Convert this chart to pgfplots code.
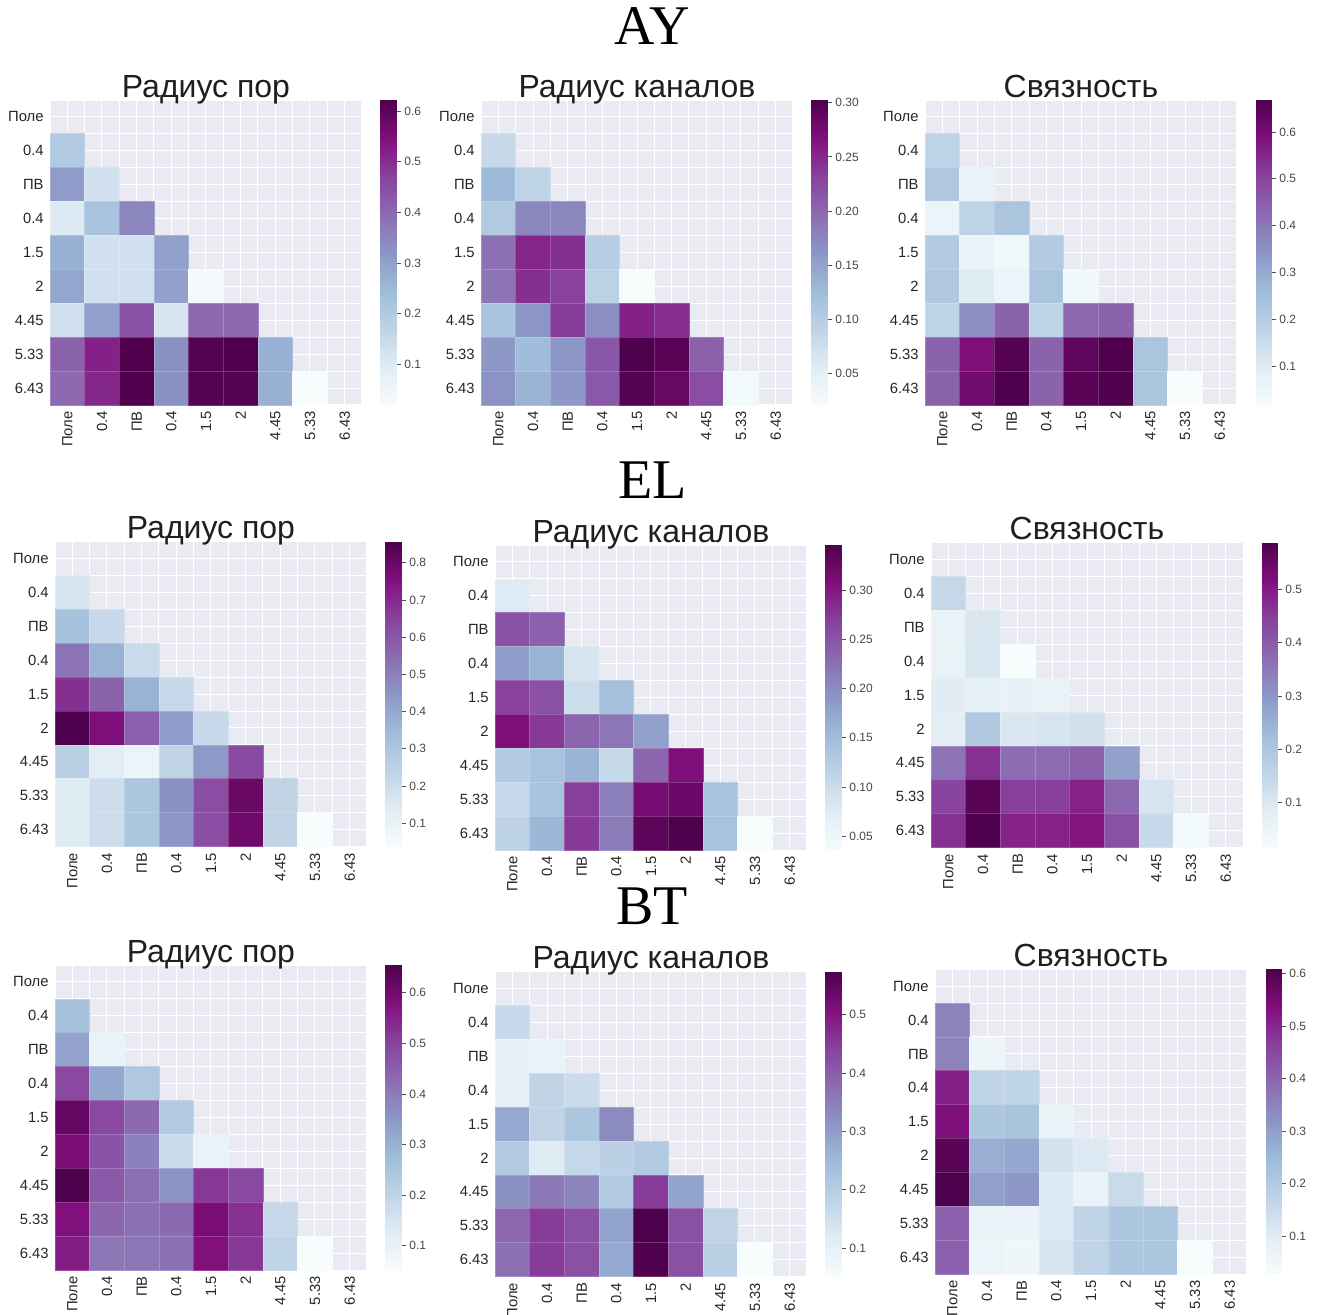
\documentclass[border=0pt]{standalone}
\usepackage{fontspec}
\setmainfont{Liberation Sans}
\newfontfamily\timesfont{Liberation Serif}
\usepackage{pgfplots}
\usepackage{pgfplotstable}
\usetikzlibrary{calc}
\pgfplotsset{compat=1.18}

\definecolor{hmbg}{HTML}{EAEAF2}
\definecolor{txt}{HTML}{262626}
% BuPu stops
\definecolor{bu0}{RGB}{247,252,253}
\definecolor{bu1}{RGB}{224,236,244}
\definecolor{bu2}{RGB}{191,211,230}
\definecolor{bu3}{RGB}{158,188,218}
\definecolor{bu4}{RGB}{140,150,198}
\definecolor{bu5}{RGB}{140,107,177}
\definecolor{bu6}{RGB}{136,65,157}
\definecolor{bu7}{RGB}{129,15,124}
\definecolor{bu8}{RGB}{77,0,75}

% half width / half height of one heatmap cell
\newdimen\cellhw \newdimen\cellhh
\cellhw=8.667pt \cellhh=8.472pt
\pgfdeclareplotmark{cell}{%
  \pgfpathrectangle{\pgfqpoint{-\cellhw}{-\cellhh}}{\pgfqpoint{2\cellhw}{2\cellhh}}%
  \pgfusepathqfillstroke}

% colour strip beside a named heatmap (BuPu, bottom to top)
\newcommand\cbar[1]{%
  \foreach \j in {0,...,7}{%
    \pgfmathtruncatemacro\nj{\j+1}%
    \foreach \p in {0,...,11}{%
      \pgfmathsetmacro\pct{100-(\p+0.5)*100/12}%
      \pgfmathsetmacro\fa{(\j*12+\p)/96}%
      \pgfmathsetmacro\fb{min((\j*12+\p+1)/96+0.003,1)}%
      \fill[bu\j!\pct!bu\nj]
        ($(#1.south east)!\fa!(#1.north east)+(9.25pt,0)$) rectangle
        ($(#1.south east)!\fb!(#1.north east)+(17.5pt,0)$);
    }%
  }%
}

% r = row (0 = Поле ... 8 = 6.43), c = column, v = value (lower triangle only)
\pgfplotstableread{
r c v
1 0 0.20
2 0 0.31
2 1 0.13
3 0 0.10
3 1 0.22
3 2 0.35
4 0 0.27
4 1 0.13
4 2 0.13
4 3 0.30
5 0 0.29
5 1 0.13
5 2 0.13
5 3 0.30
5 4 0.03
6 0 0.13
6 1 0.30
6 2 0.44
6 3 0.12
6 4 0.40
6 5 0.40
7 0 0.41
7 1 0.52
7 2 0.62
7 3 0.33
7 4 0.61
7 5 0.62
7 6 0.27
8 0 0.40
8 1 0.51
8 2 0.62
8 3 0.33
8 4 0.61
8 5 0.61
8 6 0.27
8 7 0.02
}\tAYpor

\pgfplotstableread{
r c v
1 0 0.083
2 0 0.128
2 1 0.090
3 0 0.105
3 1 0.173
3 2 0.175
4 0 0.193
4 1 0.252
4 2 0.245
4 3 0.100
5 0 0.190
5 1 0.245
5 2 0.232
5 3 0.095
5 4 0.021
6 0 0.115
6 1 0.162
6 2 0.235
6 3 0.168
6 4 0.255
6 5 0.247
7 0 0.160
7 1 0.125
7 2 0.160
7 3 0.215
7 4 0.3025
7 5 0.295
7 6 0.205
8 0 0.165
8 1 0.135
8 2 0.160
8 3 0.213
8 4 0.298
8 5 0.285
8 6 0.222
8 7 0.028
}\tAYkan

\pgfplotstableread{
r c v
1 0 0.18
2 0 0.22
2 1 0.07
3 0 0.06
3 1 0.18
3 2 0.23
4 0 0.21
4 1 0.065
4 2 0.045
4 3 0.21
5 0 0.22
5 1 0.10
5 2 0.06
5 3 0.23
5 4 0.04
6 0 0.18
6 1 0.36
6 2 0.44
6 3 0.18
6 4 0.43
6 5 0.44
7 0 0.44
7 1 0.59
7 2 0.655
7 3 0.44
7 4 0.64
7 5 0.665
7 6 0.23
8 0 0.44
8 1 0.61
8 2 0.668
8 3 0.44
8 4 0.65
8 5 0.665
8 6 0.23
8 7 0.018
}\tAYsv

\pgfplotstableread{
r c v
1 0 0.17
2 0 0.32
2 1 0.22
3 0 0.53
3 1 0.37
3 2 0.21
4 0 0.69
4 1 0.57
4 2 0.37
4 3 0.22
5 0 0.857
5 1 0.76
5 2 0.58
5 3 0.43
5 4 0.22
6 0 0.26
6 1 0.13
6 2 0.09
6 3 0.24
6 4 0.44
6 5 0.63
7 0 0.14
7 1 0.20
7 2 0.30
7 3 0.46
7 4 0.62
7 5 0.80
7 6 0.24
8 0 0.14
8 1 0.20
8 2 0.30
8 3 0.45
8 4 0.62
8 5 0.79
8 6 0.24
8 7 0.037
}\tELpor

\pgfplotstableread{
r c v
1 0 0.076
2 0 0.253
2 1 0.240
3 0 0.185
3 1 0.162
3 2 0.085
4 0 0.268
4 1 0.255
4 2 0.100
4 3 0.145
5 0 0.310
5 1 0.275
5 2 0.235
5 3 0.220
5 4 0.180
6 0 0.128
6 1 0.140
6 2 0.160
6 3 0.105
6 4 0.235
6 5 0.310
7 0 0.107
7 1 0.140
7 2 0.270
7 3 0.210
7 4 0.315
7 5 0.325
7 6 0.140
8 0 0.115
8 1 0.157
8 2 0.275
8 3 0.215
8 4 0.334
8 5 0.346
8 6 0.140
8 7 0.036
}\tELkan

\pgfplotstableread{
r c v
1 0 0.145
2 0 0.06
2 1 0.10
3 0 0.06
3 1 0.105
3 2 0.015
4 0 0.085
4 1 0.07
4 2 0.065
4 3 0.06
5 0 0.075
5 1 0.19
5 2 0.10
5 3 0.11
5 4 0.12
6 0 0.36
6 1 0.47
6 2 0.37
6 3 0.37
6 4 0.39
6 5 0.28
7 0 0.44
7 1 0.57
7 2 0.45
7 3 0.45
7 4 0.49
7 5 0.38
7 6 0.11
8 0 0.47
8 1 0.588
8 2 0.49
8 3 0.49
8 4 0.51
8 5 0.42
8 6 0.14
8 7 0.03
}\tELsv

\pgfplotstableread{
r c v
1 0 0.26
2 0 0.33
2 1 0.10
3 0 0.49
3 1 0.32
3 2 0.24
4 0 0.62
4 1 0.49
4 2 0.43
4 3 0.23
5 0 0.59
5 1 0.47
5 2 0.39
5 3 0.18
5 4 0.10
6 0 0.655
6 1 0.46
6 2 0.42
6 3 0.36
6 4 0.52
6 5 0.49
7 0 0.58
7 1 0.44
7 2 0.42
7 3 0.43
7 4 0.59
7 5 0.53
7 6 0.19
8 0 0.56
8 1 0.41
8 2 0.41
8 3 0.42
8 4 0.58
8 5 0.52
8 6 0.20
8 7 0.052
}\tBTpor

\pgfplotstableread{
r c v
1 0 0.165
2 0 0.10
2 1 0.09
3 0 0.10
3 1 0.18
3 2 0.16
4 0 0.28
4 1 0.18
4 2 0.22
4 3 0.33
5 0 0.21
5 1 0.12
5 2 0.17
5 3 0.19
5 4 0.21
6 0 0.32
6 1 0.355
6 2 0.34
6 3 0.21
6 4 0.45
6 5 0.29
7 0 0.385
7 1 0.45
7 2 0.42
7 3 0.29
7 4 0.574
7 5 0.42
7 6 0.18
8 0 0.37
8 1 0.45
8 2 0.42
8 3 0.28
8 4 0.57
8 5 0.42
8 6 0.19
8 7 0.051
}\tBTkan

\pgfplotstableread{
r c v
1 0 0.35
2 0 0.35
2 1 0.06
3 0 0.51
3 1 0.17
3 2 0.17
4 0 0.54
4 1 0.21
4 2 0.22
4 3 0.07
5 0 0.59
5 1 0.27
5 2 0.285
5 3 0.13
5 4 0.11
6 0 0.608
6 1 0.30
6 2 0.315
6 3 0.11
6 4 0.07
6 5 0.15
7 0 0.41
7 1 0.07
7 2 0.075
7 3 0.11
7 4 0.17
7 5 0.21
7 6 0.21
8 0 0.41
8 1 0.065
8 2 0.055
8 3 0.125
8 4 0.17
8 5 0.21
8 6 0.21
8 7 0.028
}\tBTsv

\pgfplotsset{
  heat/.style={
    scale only axis, width=156pt, height=152.5pt,
    anchor=north west,
    xmin=-0.5, xmax=8.5, ymin=-0.5, ymax=8.5,
    axis background/.style={fill=hmbg},
    axis line style={draw=none},
    xtick={0,...,8}, ytick={0,...,8},
    minor xtick={-0.5,0.5,...,8.5}, minor ytick={-0.5,0.5,...,8.5},
    xticklabels={Поле,0.4,ПВ,0.4,1.5,2,4.45,5.33,6.43},
    yticklabels={6.43,5.33,4.45,2,1.5,0.4,ПВ,0.4,Поле},
    grid=both,
    major grid style={white, line width=0.5pt},
    minor grid style={white, line width=0.5pt},
    major tick length=0pt, minor tick length=0pt,
    tick label style={font=\fontsize{7.4}{8}\selectfont, text=txt, inner sep=3pt},
    xticklabel style={rotate=90, anchor=east},
    yticklabel style={anchor=east},
    title style={font=\fontsize{16}{18}\selectfont, text=black!88,
      at={(0.5,1)}, anchor=base, yshift=-4.5pt},
    colormap={bupu}{rgb255=(247,252,253) rgb255=(224,236,244) rgb255=(191,211,230)
      rgb255=(158,188,218) rgb255=(140,150,198) rgb255=(140,107,177)
      rgb255=(136,65,157) rgb255=(129,15,124) rgb255=(77,0,75)},
    colorbar sampled,
    colorbar style={
      at={(parent axis.north east)}, anchor=north west, xshift=0.71pt,
      samples=120,
      scale only axis, width=8.25pt, height=152.5pt,
      axis line style={draw=none},
      ytick pos=right, yticklabel pos=right,
      tick align=outside, major tick length=2pt,
      ytick style={color=txt!80, line width=0.4pt},
      yticklabel style={font=\fontsize{6}{7}\selectfont, text=txt!85, inner sep=1.5pt,
        /pgf/number format/fixed, /pgf/number format/fixed zerofill,
        /pgf/number format/precision=1,
        /pgf/number format/assume math mode=true},
    },
  },
  cb1/.style={colorbar style={ytick={0.1,0.2,0.3,0.4,0.5,0.6,0.7,0.8}}},
  cb2/.style={colorbar style={ytick={0.05,0.10,0.15,0.20,0.25,0.30},
      yticklabel style={/pgf/number format/precision=2}}},
  % one filled square per value; rows counted from the top
  cells/.style={scatter, only marks, mark=cell,
    y filter/.expression={8-y},
    scatter/use mapped color={draw=mapped color!80!white, fill=mapped color, line width=0.4pt}},
}

\begin{document}
\begin{tikzpicture}

% ---------------- AY ----------------
\node[font=\timesfont\fontsize{28}{30}\selectfont, anchor=base] at (326pt,-22pt) {AY};

\begin{axis}[heat, cb1, name=h1, at={(25pt,-50pt)}, title={Радиус пор},
  point meta min=0.02, point meta max=0.622]
\addplot[cells, point meta=\thisrow{v}] table[x=c, y=r] {\tAYpor};
\end{axis}
\cbar{h1}

\begin{axis}[heat, cb2, name=h2, at={(240.5pt,-50pt)}, title={Радиус каналов},
  point meta min=0.021, point meta max=0.3025]
\addplot[cells, point meta=\thisrow{v}] table[x=c, y=r] {\tAYkan};
\end{axis}
\cbar{h2}

\begin{axis}[heat, cb1, name=h3, at={(462.5pt,-50pt)}, title={Связность},
  point meta min=0.018, point meta max=0.668]
\addplot[cells, point meta=\thisrow{v}] table[x=c, y=r] {\tAYsv};
\end{axis}
\cbar{h3}

% ---------------- EL ----------------
\node[font=\timesfont\fontsize{28}{30}\selectfont, anchor=base] at (326.2pt,-249.2pt) {EL};

\begin{axis}[heat, cb1, name=h4, at={(27.5pt,-270.8pt)}, title={Радиус пор},
  point meta min=0.037, point meta max=0.857]
\addplot[cells, point meta=\thisrow{v}] table[x=c, y=r] {\tELpor};
\end{axis}
\cbar{h4}

\begin{axis}[heat, cb2, name=h5, at={(247.5pt,-272.5pt)}, title={Радиус каналов},
  point meta min=0.036, point meta max=0.346]
\addplot[cells, point meta=\thisrow{v}] table[x=c, y=r] {\tELkan};
\end{axis}
\cbar{h5}

\begin{axis}[heat, cb1, name=h6, at={(465.5pt,-271.3pt)}, title={Связность},
  point meta min=0.015, point meta max=0.588]
\addplot[cells, point meta=\thisrow{v}] table[x=c, y=r] {\tELsv};
\end{axis}
\cbar{h6}

% ---------------- BT ----------------
\node[font=\timesfont\fontsize{28}{30}\selectfont, anchor=base] at (326pt,-462pt) {BT};

\begin{axis}[heat, cb1, name=h7, at={(27.5pt,-482.5pt)}, title={Радиус пор},
  point meta min=0.052, point meta max=0.655]
\addplot[cells, point meta=\thisrow{v}] table[x=c, y=r] {\tBTpor};
\end{axis}
\cbar{h7}

\begin{axis}[heat, cb1, name=h8, at={(247.5pt,-485.8pt)}, title={Радиус каналов},
  point meta min=0.051, point meta max=0.574]
\addplot[cells, point meta=\thisrow{v}] table[x=c, y=r] {\tBTkan};
\end{axis}
\cbar{h8}

\begin{axis}[heat, cb1, name=h9, at={(467.5pt,-484.6pt)}, title={Связность},
  point meta min=0.028, point meta max=0.608]
\addplot[cells, point meta=\thisrow{v}] table[x=c, y=r] {\tBTsv};
\end{axis}
\cbar{h9}

\pgfresetboundingbox
\useasboundingbox (0,0) rectangle (658.5pt,-657pt);
\end{tikzpicture}
\end{document}
